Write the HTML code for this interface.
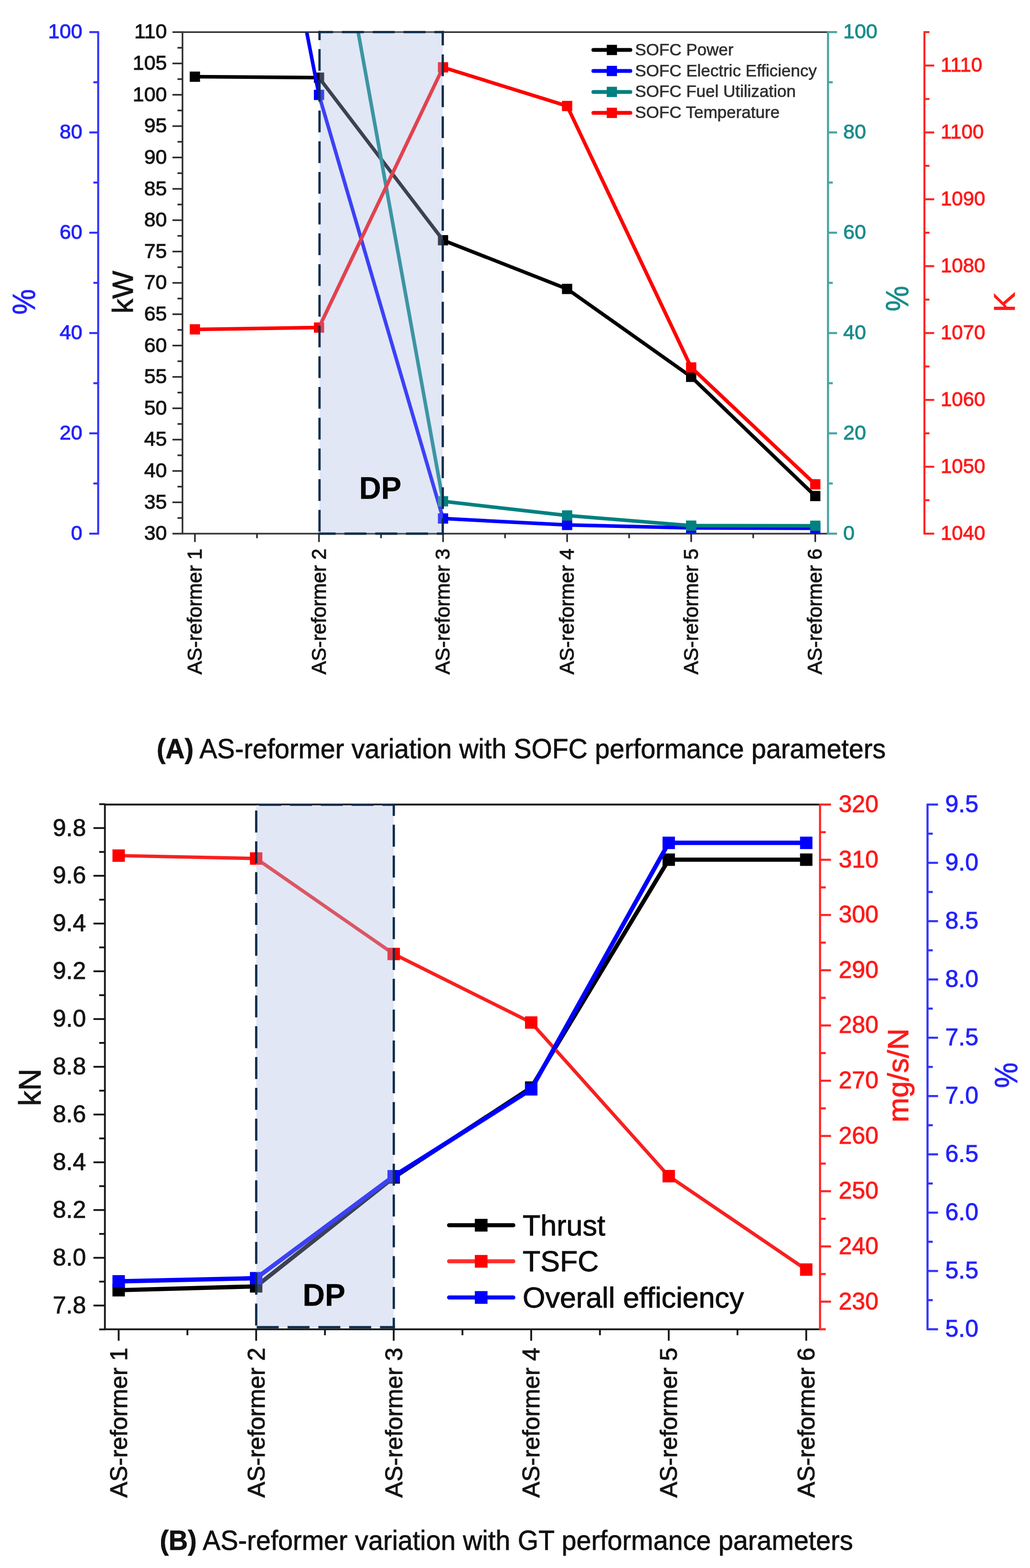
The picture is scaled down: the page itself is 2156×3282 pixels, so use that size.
<!DOCTYPE html>
<html><head><meta charset="utf-8"><title>AS-reformer variation</title>
<style>html,body{margin:0;padding:0;background:#fff;} svg{display:block;}</style></head>
<body><svg width="2156" height="3282" viewBox="0 0 2156 3282" font-family="Liberation Sans, Arial, sans-serif">
<rect width="2156" height="3282" fill="#ffffff"/>
<line x1="205.5" y1="65.4" x2="205.5" y2="1118.8" stroke="#3333ff" stroke-width="4.2" />
<line x1="206.5" y1="1117.0" x2="187.0" y2="1117.0" stroke="#3333ff" stroke-width="4.2" />
<text x="172.5" y="1130.2" font-size="43" fill="#2222ff" stroke="#2222ff" stroke-width="1.0" text-anchor="end" >0</text>
<line x1="206.5" y1="1012.0" x2="195.5" y2="1012.0" stroke="#3333ff" stroke-width="4.2" />
<line x1="206.5" y1="907.0" x2="187.0" y2="907.0" stroke="#3333ff" stroke-width="4.2" />
<text x="172.5" y="920.2" font-size="43" fill="#2222ff" stroke="#2222ff" stroke-width="1.0" text-anchor="end" >20</text>
<line x1="206.5" y1="802.1" x2="195.5" y2="802.1" stroke="#3333ff" stroke-width="4.2" />
<line x1="206.5" y1="697.1" x2="187.0" y2="697.1" stroke="#3333ff" stroke-width="4.2" />
<text x="172.5" y="710.3" font-size="43" fill="#2222ff" stroke="#2222ff" stroke-width="1.0" text-anchor="end" >40</text>
<line x1="206.5" y1="592.1" x2="195.5" y2="592.1" stroke="#3333ff" stroke-width="4.2" />
<line x1="206.5" y1="487.1" x2="187.0" y2="487.1" stroke="#3333ff" stroke-width="4.2" />
<text x="172.5" y="500.3" font-size="43" fill="#2222ff" stroke="#2222ff" stroke-width="1.0" text-anchor="end" >60</text>
<line x1="206.5" y1="382.1" x2="195.5" y2="382.1" stroke="#3333ff" stroke-width="4.2" />
<line x1="206.5" y1="277.2" x2="187.0" y2="277.2" stroke="#3333ff" stroke-width="4.2" />
<text x="172.5" y="290.4" font-size="43" fill="#2222ff" stroke="#2222ff" stroke-width="1.0" text-anchor="end" >80</text>
<line x1="206.5" y1="172.2" x2="195.5" y2="172.2" stroke="#3333ff" stroke-width="4.2" />
<line x1="206.5" y1="67.2" x2="187.0" y2="67.2" stroke="#3333ff" stroke-width="4.2" />
<text x="172.5" y="80.4" font-size="43" fill="#2222ff" stroke="#2222ff" stroke-width="1.0" text-anchor="end" >100</text>
<line x1="382.0" y1="65.7" x2="382.0" y2="1118.5" stroke="#2a2a2a" stroke-width="3.4" />
<line x1="382.0" y1="1117.0" x2="361.0" y2="1117.0" stroke="#2a2a2a" stroke-width="3.4" />
<text x="349.5" y="1130.2" font-size="43" fill="#141414" stroke="#141414" stroke-width="1.0" text-anchor="end" >30</text>
<line x1="382.0" y1="1084.2" x2="371.5" y2="1084.2" stroke="#2a2a2a" stroke-width="3.4" />
<line x1="382.0" y1="1051.4" x2="361.0" y2="1051.4" stroke="#2a2a2a" stroke-width="3.4" />
<text x="349.5" y="1064.6" font-size="43" fill="#141414" stroke="#141414" stroke-width="1.0" text-anchor="end" >35</text>
<line x1="382.0" y1="1018.6" x2="371.5" y2="1018.6" stroke="#2a2a2a" stroke-width="3.4" />
<line x1="382.0" y1="985.8" x2="361.0" y2="985.8" stroke="#2a2a2a" stroke-width="3.4" />
<text x="349.5" y="999.0" font-size="43" fill="#141414" stroke="#141414" stroke-width="1.0" text-anchor="end" >40</text>
<line x1="382.0" y1="953.0" x2="371.5" y2="953.0" stroke="#2a2a2a" stroke-width="3.4" />
<line x1="382.0" y1="920.2" x2="361.0" y2="920.2" stroke="#2a2a2a" stroke-width="3.4" />
<text x="349.5" y="933.4" font-size="43" fill="#141414" stroke="#141414" stroke-width="1.0" text-anchor="end" >45</text>
<line x1="382.0" y1="887.4" x2="371.5" y2="887.4" stroke="#2a2a2a" stroke-width="3.4" />
<line x1="382.0" y1="854.6" x2="361.0" y2="854.6" stroke="#2a2a2a" stroke-width="3.4" />
<text x="349.5" y="867.8" font-size="43" fill="#141414" stroke="#141414" stroke-width="1.0" text-anchor="end" >50</text>
<line x1="382.0" y1="821.7" x2="371.5" y2="821.7" stroke="#2a2a2a" stroke-width="3.4" />
<line x1="382.0" y1="788.9" x2="361.0" y2="788.9" stroke="#2a2a2a" stroke-width="3.4" />
<text x="349.5" y="802.1" font-size="43" fill="#141414" stroke="#141414" stroke-width="1.0" text-anchor="end" >55</text>
<line x1="382.0" y1="756.1" x2="371.5" y2="756.1" stroke="#2a2a2a" stroke-width="3.4" />
<line x1="382.0" y1="723.3" x2="361.0" y2="723.3" stroke="#2a2a2a" stroke-width="3.4" />
<text x="349.5" y="736.5" font-size="43" fill="#141414" stroke="#141414" stroke-width="1.0" text-anchor="end" >60</text>
<line x1="382.0" y1="690.5" x2="371.5" y2="690.5" stroke="#2a2a2a" stroke-width="3.4" />
<line x1="382.0" y1="657.7" x2="361.0" y2="657.7" stroke="#2a2a2a" stroke-width="3.4" />
<text x="349.5" y="670.9" font-size="43" fill="#141414" stroke="#141414" stroke-width="1.0" text-anchor="end" >65</text>
<line x1="382.0" y1="624.9" x2="371.5" y2="624.9" stroke="#2a2a2a" stroke-width="3.4" />
<line x1="382.0" y1="592.1" x2="361.0" y2="592.1" stroke="#2a2a2a" stroke-width="3.4" />
<text x="349.5" y="605.3" font-size="43" fill="#141414" stroke="#141414" stroke-width="1.0" text-anchor="end" >70</text>
<line x1="382.0" y1="559.3" x2="371.5" y2="559.3" stroke="#2a2a2a" stroke-width="3.4" />
<line x1="382.0" y1="526.5" x2="361.0" y2="526.5" stroke="#2a2a2a" stroke-width="3.4" />
<text x="349.5" y="539.7" font-size="43" fill="#141414" stroke="#141414" stroke-width="1.0" text-anchor="end" >75</text>
<line x1="382.0" y1="493.7" x2="371.5" y2="493.7" stroke="#2a2a2a" stroke-width="3.4" />
<line x1="382.0" y1="460.9" x2="361.0" y2="460.9" stroke="#2a2a2a" stroke-width="3.4" />
<text x="349.5" y="474.1" font-size="43" fill="#141414" stroke="#141414" stroke-width="1.0" text-anchor="end" >80</text>
<line x1="382.0" y1="428.1" x2="371.5" y2="428.1" stroke="#2a2a2a" stroke-width="3.4" />
<line x1="382.0" y1="395.3" x2="361.0" y2="395.3" stroke="#2a2a2a" stroke-width="3.4" />
<text x="349.5" y="408.5" font-size="43" fill="#141414" stroke="#141414" stroke-width="1.0" text-anchor="end" >85</text>
<line x1="382.0" y1="362.5" x2="371.5" y2="362.5" stroke="#2a2a2a" stroke-width="3.4" />
<line x1="382.0" y1="329.6" x2="361.0" y2="329.6" stroke="#2a2a2a" stroke-width="3.4" />
<text x="349.5" y="342.8" font-size="43" fill="#141414" stroke="#141414" stroke-width="1.0" text-anchor="end" >90</text>
<line x1="382.0" y1="296.8" x2="371.5" y2="296.8" stroke="#2a2a2a" stroke-width="3.4" />
<line x1="382.0" y1="264.0" x2="361.0" y2="264.0" stroke="#2a2a2a" stroke-width="3.4" />
<text x="349.5" y="277.2" font-size="43" fill="#141414" stroke="#141414" stroke-width="1.0" text-anchor="end" >95</text>
<line x1="382.0" y1="231.2" x2="371.5" y2="231.2" stroke="#2a2a2a" stroke-width="3.4" />
<line x1="382.0" y1="198.4" x2="361.0" y2="198.4" stroke="#2a2a2a" stroke-width="3.4" />
<text x="349.5" y="211.6" font-size="43" fill="#141414" stroke="#141414" stroke-width="1.0" text-anchor="end" >100</text>
<line x1="382.0" y1="165.6" x2="371.5" y2="165.6" stroke="#2a2a2a" stroke-width="3.4" />
<line x1="382.0" y1="132.8" x2="361.0" y2="132.8" stroke="#2a2a2a" stroke-width="3.4" />
<text x="349.5" y="146.0" font-size="43" fill="#141414" stroke="#141414" stroke-width="1.0" text-anchor="end" >105</text>
<line x1="382.0" y1="100.0" x2="371.5" y2="100.0" stroke="#2a2a2a" stroke-width="3.4" />
<line x1="382.0" y1="67.2" x2="361.0" y2="67.2" stroke="#2a2a2a" stroke-width="3.4" />
<text x="349.5" y="80.4" font-size="43" fill="#141414" stroke="#141414" stroke-width="1.0" text-anchor="end" >110</text>
<line x1="380.5" y1="67.2" x2="1733.0" y2="67.2" stroke="#383838" stroke-width="3.4" />
<line x1="380.5" y1="1117.0" x2="1733.0" y2="1117.0" stroke="#383838" stroke-width="3.4" />
<line x1="408.0" y1="1117.0" x2="408.0" y2="1134.5" stroke="#2a2a2a" stroke-width="3.4" />
<line x1="537.9" y1="1117.0" x2="537.9" y2="1126.5" stroke="#2a2a2a" stroke-width="3.4" />
<line x1="667.7" y1="1117.0" x2="667.7" y2="1134.5" stroke="#2a2a2a" stroke-width="3.4" />
<line x1="797.6" y1="1117.0" x2="797.6" y2="1126.5" stroke="#2a2a2a" stroke-width="3.4" />
<line x1="927.4" y1="1117.0" x2="927.4" y2="1134.5" stroke="#2a2a2a" stroke-width="3.4" />
<line x1="1057.2" y1="1117.0" x2="1057.2" y2="1126.5" stroke="#2a2a2a" stroke-width="3.4" />
<line x1="1187.1" y1="1117.0" x2="1187.1" y2="1134.5" stroke="#2a2a2a" stroke-width="3.4" />
<line x1="1316.9" y1="1117.0" x2="1316.9" y2="1126.5" stroke="#2a2a2a" stroke-width="3.4" />
<line x1="1446.8" y1="1117.0" x2="1446.8" y2="1134.5" stroke="#2a2a2a" stroke-width="3.4" />
<line x1="1576.6" y1="1117.0" x2="1576.6" y2="1126.5" stroke="#2a2a2a" stroke-width="3.4" />
<line x1="1706.5" y1="1117.0" x2="1706.5" y2="1134.5" stroke="#2a2a2a" stroke-width="3.4" />
<line x1="1733.2" y1="65.4" x2="1733.2" y2="1118.8" stroke="#48a6a6" stroke-width="4.4" />
<line x1="1732.2" y1="1117.0" x2="1752.2" y2="1117.0" stroke="#48a6a6" stroke-width="4.4" />
<text x="1765.0" y="1130.2" font-size="43" fill="#1a8c8c" stroke="#1a8c8c" stroke-width="1.0" text-anchor="start" >0</text>
<line x1="1732.2" y1="1012.0" x2="1743.2" y2="1012.0" stroke="#48a6a6" stroke-width="4.4" />
<line x1="1732.2" y1="907.0" x2="1752.2" y2="907.0" stroke="#48a6a6" stroke-width="4.4" />
<text x="1765.0" y="920.2" font-size="43" fill="#1a8c8c" stroke="#1a8c8c" stroke-width="1.0" text-anchor="start" >20</text>
<line x1="1732.2" y1="802.1" x2="1743.2" y2="802.1" stroke="#48a6a6" stroke-width="4.4" />
<line x1="1732.2" y1="697.1" x2="1752.2" y2="697.1" stroke="#48a6a6" stroke-width="4.4" />
<text x="1765.0" y="710.3" font-size="43" fill="#1a8c8c" stroke="#1a8c8c" stroke-width="1.0" text-anchor="start" >40</text>
<line x1="1732.2" y1="592.1" x2="1743.2" y2="592.1" stroke="#48a6a6" stroke-width="4.4" />
<line x1="1732.2" y1="487.1" x2="1752.2" y2="487.1" stroke="#48a6a6" stroke-width="4.4" />
<text x="1765.0" y="500.3" font-size="43" fill="#1a8c8c" stroke="#1a8c8c" stroke-width="1.0" text-anchor="start" >60</text>
<line x1="1732.2" y1="382.1" x2="1743.2" y2="382.1" stroke="#48a6a6" stroke-width="4.4" />
<line x1="1732.2" y1="277.2" x2="1752.2" y2="277.2" stroke="#48a6a6" stroke-width="4.4" />
<text x="1765.0" y="290.4" font-size="43" fill="#1a8c8c" stroke="#1a8c8c" stroke-width="1.0" text-anchor="start" >80</text>
<line x1="1732.2" y1="172.2" x2="1743.2" y2="172.2" stroke="#48a6a6" stroke-width="4.4" />
<line x1="1732.2" y1="67.2" x2="1752.2" y2="67.2" stroke="#48a6a6" stroke-width="4.4" />
<text x="1765.0" y="80.4" font-size="43" fill="#1a8c8c" stroke="#1a8c8c" stroke-width="1.0" text-anchor="start" >100</text>
<line x1="1935.0" y1="65.4" x2="1935.0" y2="1118.8" stroke="#ff2626" stroke-width="4.2" />
<line x1="1934.0" y1="1117.0" x2="1955.5" y2="1117.0" stroke="#ff2626" stroke-width="4.2" />
<text x="1969.0" y="1130.2" font-size="42" fill="#ff1a1a" stroke="#ff1a1a" stroke-width="1.0" text-anchor="start" >1040</text>
<line x1="1934.0" y1="1047.0" x2="1945.5" y2="1047.0" stroke="#ff2626" stroke-width="4.2" />
<line x1="1934.0" y1="977.0" x2="1955.5" y2="977.0" stroke="#ff2626" stroke-width="4.2" />
<text x="1969.0" y="990.2" font-size="42" fill="#ff1a1a" stroke="#ff1a1a" stroke-width="1.0" text-anchor="start" >1050</text>
<line x1="1934.0" y1="907.0" x2="1945.5" y2="907.0" stroke="#ff2626" stroke-width="4.2" />
<line x1="1934.0" y1="837.1" x2="1955.5" y2="837.1" stroke="#ff2626" stroke-width="4.2" />
<text x="1969.0" y="850.3" font-size="42" fill="#ff1a1a" stroke="#ff1a1a" stroke-width="1.0" text-anchor="start" >1060</text>
<line x1="1934.0" y1="767.1" x2="1945.5" y2="767.1" stroke="#ff2626" stroke-width="4.2" />
<line x1="1934.0" y1="697.1" x2="1955.5" y2="697.1" stroke="#ff2626" stroke-width="4.2" />
<text x="1969.0" y="710.3" font-size="42" fill="#ff1a1a" stroke="#ff1a1a" stroke-width="1.0" text-anchor="start" >1070</text>
<line x1="1934.0" y1="627.1" x2="1945.5" y2="627.1" stroke="#ff2626" stroke-width="4.2" />
<line x1="1934.0" y1="557.1" x2="1955.5" y2="557.1" stroke="#ff2626" stroke-width="4.2" />
<text x="1969.0" y="570.3" font-size="42" fill="#ff1a1a" stroke="#ff1a1a" stroke-width="1.0" text-anchor="start" >1080</text>
<line x1="1934.0" y1="487.1" x2="1945.5" y2="487.1" stroke="#ff2626" stroke-width="4.2" />
<line x1="1934.0" y1="417.1" x2="1955.5" y2="417.1" stroke="#ff2626" stroke-width="4.2" />
<text x="1969.0" y="430.3" font-size="42" fill="#ff1a1a" stroke="#ff1a1a" stroke-width="1.0" text-anchor="start" >1090</text>
<line x1="1934.0" y1="347.1" x2="1945.5" y2="347.1" stroke="#ff2626" stroke-width="4.2" />
<line x1="1934.0" y1="277.2" x2="1955.5" y2="277.2" stroke="#ff2626" stroke-width="4.2" />
<text x="1969.0" y="290.4" font-size="42" fill="#ff1a1a" stroke="#ff1a1a" stroke-width="1.0" text-anchor="start" >1100</text>
<line x1="1934.0" y1="207.2" x2="1945.5" y2="207.2" stroke="#ff2626" stroke-width="4.2" />
<line x1="1934.0" y1="137.2" x2="1955.5" y2="137.2" stroke="#ff2626" stroke-width="4.2" />
<text x="1969.0" y="150.4" font-size="42" fill="#ff1a1a" stroke="#ff1a1a" stroke-width="1.0" text-anchor="start" >1110</text>
<line x1="1934.0" y1="67.2" x2="1945.5" y2="67.2" stroke="#ff2626" stroke-width="4.2" />
<text transform="translate(73.2,631.8) rotate(-90)" font-size="66" fill="#2222ff" stroke="#2222ff" stroke-width="1.0" text-anchor="middle" textLength="53.3" lengthAdjust="spacingAndGlyphs">%</text>
<text transform="translate(277.5,611.5) rotate(-90)" font-size="62" fill="#141414" stroke="#141414" stroke-width="1.0" text-anchor="middle" >kW</text>
<text transform="translate(1900.9,625.1) rotate(-90)" font-size="66" fill="#1a8c8c" stroke="#1a8c8c" stroke-width="1.0" text-anchor="middle" textLength="53.3" lengthAdjust="spacingAndGlyphs">%</text>
<text transform="translate(2124.0,632.5) rotate(-90)" font-size="63" fill="#ff1a1a" stroke="#ff1a1a" stroke-width="1.0" text-anchor="middle" >K</text>
<text transform="translate(421.8,1411.8) rotate(-90)" font-size="42" fill="#141414" stroke="#141414" stroke-width="1.0" text-anchor="start" >AS-reformer 1</text>
<text transform="translate(681.5,1411.8) rotate(-90)" font-size="42" fill="#141414" stroke="#141414" stroke-width="1.0" text-anchor="start" >AS-reformer 2</text>
<text transform="translate(941.2,1411.8) rotate(-90)" font-size="42" fill="#141414" stroke="#141414" stroke-width="1.0" text-anchor="start" >AS-reformer 3</text>
<text transform="translate(1200.9,1411.8) rotate(-90)" font-size="42" fill="#141414" stroke="#141414" stroke-width="1.0" text-anchor="start" >AS-reformer 4</text>
<text transform="translate(1460.6,1411.8) rotate(-90)" font-size="42" fill="#141414" stroke="#141414" stroke-width="1.0" text-anchor="start" >AS-reformer 5</text>
<text transform="translate(1720.3,1411.8) rotate(-90)" font-size="42" fill="#141414" stroke="#141414" stroke-width="1.0" text-anchor="start" >AS-reformer 6</text>
<clipPath id="clipA"><rect x="382.0" y="68.2" width="1351.0" height="1061.8"/></clipPath>
<g clip-path="url(#clipA)">
<polyline points="408.0,160.5 667.7,162.5 927.4,502.8 1187.1,604.7 1446.8,788.7 1706.5,1038.3" fill="none" stroke="#000000" stroke-width="7.5" stroke-linejoin="round" />
<rect x="397.2" y="149.8" width="21.5" height="21.5" fill="#000000" />
<rect x="657.0" y="151.8" width="21.5" height="21.5" fill="#000000" />
<rect x="916.6" y="492.1" width="21.5" height="21.5" fill="#000000" />
<rect x="1176.3" y="594.0" width="21.5" height="21.5" fill="#000000" />
<rect x="1436.0" y="778.0" width="21.5" height="21.5" fill="#000000" />
<rect x="1695.8" y="1027.5" width="21.5" height="21.5" fill="#000000" />
<polyline points="408.0,-1130.4 667.7,198.7 927.4,1085.3 1187.1,1098.8 1446.8,1105.0 1706.5,1105.8" fill="none" stroke="#0000ff" stroke-width="7.5" stroke-linejoin="round" />
<rect x="397.2" y="-1141.2" width="21.5" height="21.5" fill="#0000ff" />
<rect x="657.0" y="187.9" width="21.5" height="21.5" fill="#0000ff" />
<rect x="916.6" y="1074.5" width="21.5" height="21.5" fill="#0000ff" />
<rect x="1176.3" y="1088.0" width="21.5" height="21.5" fill="#0000ff" />
<rect x="1436.0" y="1094.2" width="21.5" height="21.5" fill="#0000ff" />
<rect x="1695.8" y="1095.0" width="21.5" height="21.5" fill="#0000ff" />
<polyline points="408.0,-2000.0 667.7,-386.3 927.4,1049.3 1187.1,1079.0 1446.8,1100.2 1706.5,1100.4" fill="none" stroke="#008080" stroke-width="7.5" stroke-linejoin="round" />
<rect x="397.2" y="-2010.8" width="21.5" height="21.5" fill="#008080" />
<rect x="657.0" y="-397.1" width="21.5" height="21.5" fill="#008080" />
<rect x="916.6" y="1038.5" width="21.5" height="21.5" fill="#008080" />
<rect x="1176.3" y="1068.2" width="21.5" height="21.5" fill="#008080" />
<rect x="1436.0" y="1089.5" width="21.5" height="21.5" fill="#008080" />
<rect x="1695.8" y="1089.7" width="21.5" height="21.5" fill="#008080" />
<polyline points="408.0,689.4 667.7,685.6 927.4,141.0 1187.1,221.8 1446.8,769.1 1706.5,1013.8" fill="none" stroke="#ff0000" stroke-width="7.5" stroke-linejoin="round" />
<rect x="397.2" y="678.6" width="21.5" height="21.5" fill="#ff0000" />
<rect x="657.0" y="674.9" width="21.5" height="21.5" fill="#ff0000" />
<rect x="916.6" y="130.2" width="21.5" height="21.5" fill="#ff0000" />
<rect x="1176.3" y="211.1" width="21.5" height="21.5" fill="#ff0000" />
<rect x="1436.0" y="758.4" width="21.5" height="21.5" fill="#ff0000" />
<rect x="1695.8" y="1003.0" width="21.5" height="21.5" fill="#ff0000" />
</g>
<rect x="668.8" y="67.2" width="258.0" height="1049.8" fill="rgb(170,187,227)" fill-opacity="0.353"/>
<line x1="668.8" y1="64.8" x2="668.8" y2="1119.4" stroke="#0f2c4a" stroke-width="4.8" stroke-dasharray="45.5 18.8" stroke-dashoffset="26.30"/>
<line x1="926.8" y1="64.8" x2="926.8" y2="1119.4" stroke="#0f2c4a" stroke-width="4.8" stroke-dasharray="45.5 19.2" stroke-dashoffset="15.40"/>
<line x1="666.4" y1="67.2" x2="929.2" y2="67.2" stroke="#0f2c4a" stroke-width="4.8" stroke-dasharray="46 18.5" stroke-dashoffset="15.20"/>
<line x1="666.4" y1="1117.0" x2="929.2" y2="1117.0" stroke="#0f2c4a" stroke-width="4.8" stroke-dasharray="46 18.5" stroke-dashoffset="9.90"/>
<text x="751.8" y="1044.0" font-size="65" fill="#000" stroke="#000" stroke-width="0.3" text-anchor="start" font-weight="bold" textLength="88.5" lengthAdjust="spacingAndGlyphs">DP</text>
<line x1="1242.0" y1="104.6" x2="1319.5" y2="104.6" stroke="#000000" stroke-width="8" stroke-linecap="round"/>
<rect x="1270.0" y="93.8" width="21.5" height="21.5" fill="#000000" />
<text x="1329.2" y="115.6" font-size="35" fill="#2e2e2e" stroke="#2e2e2e" stroke-width="0.7" text-anchor="start" >SOFC Power</text>
<line x1="1242.0" y1="148.5" x2="1319.5" y2="148.5" stroke="#0000ff" stroke-width="8" stroke-linecap="round"/>
<rect x="1270.0" y="137.8" width="21.5" height="21.5" fill="#0000ff" />
<text x="1329.2" y="159.5" font-size="35" fill="#2e2e2e" stroke="#2e2e2e" stroke-width="0.7" text-anchor="start" >SOFC Electric Efficiency</text>
<line x1="1242.0" y1="192.4" x2="1319.5" y2="192.4" stroke="#008080" stroke-width="8" stroke-linecap="round"/>
<rect x="1270.0" y="181.6" width="21.5" height="21.5" fill="#008080" />
<text x="1329.2" y="203.4" font-size="35" fill="#2e2e2e" stroke="#2e2e2e" stroke-width="0.7" text-anchor="start" >SOFC Fuel Utilization</text>
<line x1="1242.0" y1="236.3" x2="1319.5" y2="236.3" stroke="#ff0000" stroke-width="8" stroke-linecap="round"/>
<rect x="1270.0" y="225.5" width="21.5" height="21.5" fill="#ff0000" />
<text x="1329.2" y="247.3" font-size="35" fill="#2e2e2e" stroke="#2e2e2e" stroke-width="0.7" text-anchor="start" >SOFC Temperature</text>
<text x="328" y="1587" font-size="57" fill="#111" stroke="#111" stroke-width="0.8" textLength="1526" lengthAdjust="spacingAndGlyphs"><tspan font-weight="bold">(A)</tspan> AS-reformer variation with SOFC performance parameters</text>
<line x1="219.6" y1="1682.5" x2="219.6" y2="2783.8" stroke="#161616" stroke-width="3.8" />
<line x1="219.6" y1="2782.6" x2="207.6" y2="2782.6" stroke="#161616" stroke-width="3.8" />
<line x1="219.6" y1="2732.6" x2="195.6" y2="2732.6" stroke="#161616" stroke-width="3.8" />
<text x="180.0" y="2748.9" font-size="50" fill="#141414" stroke="#141414" stroke-width="1.0" text-anchor="end" >7.8</text>
<line x1="219.6" y1="2682.6" x2="207.6" y2="2682.6" stroke="#161616" stroke-width="3.8" />
<line x1="219.6" y1="2632.7" x2="195.6" y2="2632.7" stroke="#161616" stroke-width="3.8" />
<text x="180.0" y="2649.0" font-size="50" fill="#141414" stroke="#141414" stroke-width="1.0" text-anchor="end" >8.0</text>
<line x1="219.6" y1="2582.7" x2="207.6" y2="2582.7" stroke="#161616" stroke-width="3.8" />
<line x1="219.6" y1="2532.7" x2="195.6" y2="2532.7" stroke="#161616" stroke-width="3.8" />
<text x="180.0" y="2549.0" font-size="50" fill="#141414" stroke="#141414" stroke-width="1.0" text-anchor="end" >8.2</text>
<line x1="219.6" y1="2482.7" x2="207.6" y2="2482.7" stroke="#161616" stroke-width="3.8" />
<line x1="219.6" y1="2432.8" x2="195.6" y2="2432.8" stroke="#161616" stroke-width="3.8" />
<text x="180.0" y="2449.1" font-size="50" fill="#141414" stroke="#141414" stroke-width="1.0" text-anchor="end" >8.4</text>
<line x1="219.6" y1="2382.8" x2="207.6" y2="2382.8" stroke="#161616" stroke-width="3.8" />
<line x1="219.6" y1="2332.8" x2="195.6" y2="2332.8" stroke="#161616" stroke-width="3.8" />
<text x="180.0" y="2349.1" font-size="50" fill="#141414" stroke="#141414" stroke-width="1.0" text-anchor="end" >8.6</text>
<line x1="219.6" y1="2282.9" x2="207.6" y2="2282.9" stroke="#161616" stroke-width="3.8" />
<line x1="219.6" y1="2232.9" x2="195.6" y2="2232.9" stroke="#161616" stroke-width="3.8" />
<text x="180.0" y="2249.2" font-size="50" fill="#141414" stroke="#141414" stroke-width="1.0" text-anchor="end" >8.8</text>
<line x1="219.6" y1="2182.9" x2="207.6" y2="2182.9" stroke="#161616" stroke-width="3.8" />
<line x1="219.6" y1="2133.0" x2="195.6" y2="2133.0" stroke="#161616" stroke-width="3.8" />
<text x="180.0" y="2149.3" font-size="50" fill="#141414" stroke="#141414" stroke-width="1.0" text-anchor="end" >9.0</text>
<line x1="219.6" y1="2083.0" x2="207.6" y2="2083.0" stroke="#161616" stroke-width="3.8" />
<line x1="219.6" y1="2033.0" x2="195.6" y2="2033.0" stroke="#161616" stroke-width="3.8" />
<text x="180.0" y="2049.3" font-size="50" fill="#141414" stroke="#141414" stroke-width="1.0" text-anchor="end" >9.2</text>
<line x1="219.6" y1="1983.0" x2="207.6" y2="1983.0" stroke="#161616" stroke-width="3.8" />
<line x1="219.6" y1="1933.1" x2="195.6" y2="1933.1" stroke="#161616" stroke-width="3.8" />
<text x="180.0" y="1949.4" font-size="50" fill="#141414" stroke="#141414" stroke-width="1.0" text-anchor="end" >9.4</text>
<line x1="219.6" y1="1883.1" x2="207.6" y2="1883.1" stroke="#161616" stroke-width="3.8" />
<line x1="219.6" y1="1833.1" x2="195.6" y2="1833.1" stroke="#161616" stroke-width="3.8" />
<text x="180.0" y="1849.4" font-size="50" fill="#141414" stroke="#141414" stroke-width="1.0" text-anchor="end" >9.6</text>
<line x1="219.6" y1="1783.2" x2="207.6" y2="1783.2" stroke="#161616" stroke-width="3.8" />
<line x1="219.6" y1="1733.2" x2="195.6" y2="1733.2" stroke="#161616" stroke-width="3.8" />
<text x="180.0" y="1749.5" font-size="50" fill="#141414" stroke="#141414" stroke-width="1.0" text-anchor="end" >9.8</text>
<line x1="219.6" y1="1683.2" x2="207.6" y2="1683.2" stroke="#161616" stroke-width="3.8" />
<line x1="218.1" y1="1684.0" x2="1716.5" y2="1684.0" stroke="#161616" stroke-width="3.8" />
<line x1="218.1" y1="2782.3" x2="1716.5" y2="2782.3" stroke="#161616" stroke-width="3.8" />
<line x1="248.4" y1="2782.3" x2="248.4" y2="2806.3" stroke="#161616" stroke-width="3.8" />
<line x1="392.3" y1="2782.3" x2="392.3" y2="2794.8" stroke="#161616" stroke-width="3.8" />
<line x1="536.2" y1="2782.3" x2="536.2" y2="2806.3" stroke="#161616" stroke-width="3.8" />
<line x1="680.2" y1="2782.3" x2="680.2" y2="2794.8" stroke="#161616" stroke-width="3.8" />
<line x1="824.1" y1="2782.3" x2="824.1" y2="2806.3" stroke="#161616" stroke-width="3.8" />
<line x1="968.0" y1="2782.3" x2="968.0" y2="2794.8" stroke="#161616" stroke-width="3.8" />
<line x1="1111.9" y1="2782.3" x2="1111.9" y2="2806.3" stroke="#161616" stroke-width="3.8" />
<line x1="1255.8" y1="2782.3" x2="1255.8" y2="2794.8" stroke="#161616" stroke-width="3.8" />
<line x1="1399.8" y1="2782.3" x2="1399.8" y2="2806.3" stroke="#161616" stroke-width="3.8" />
<line x1="1543.7" y1="2782.3" x2="1543.7" y2="2794.8" stroke="#161616" stroke-width="3.8" />
<line x1="1687.6" y1="2782.3" x2="1687.6" y2="2806.3" stroke="#161616" stroke-width="3.8" />
<line x1="1716.5" y1="1682.2" x2="1716.5" y2="2784.1" stroke="#ff2626" stroke-width="4.4" />
<line x1="1715.5" y1="2782.3" x2="1728.5" y2="2782.3" stroke="#ff2626" stroke-width="4.4" />
<line x1="1715.5" y1="2724.5" x2="1739.5" y2="2724.5" stroke="#ff2626" stroke-width="4.4" />
<text x="1755.5" y="2740.5" font-size="50" fill="#ff1a1a" stroke="#ff1a1a" stroke-width="1.0" text-anchor="start" >230</text>
<line x1="1715.5" y1="2666.7" x2="1728.5" y2="2666.7" stroke="#ff2626" stroke-width="4.4" />
<line x1="1715.5" y1="2608.9" x2="1739.5" y2="2608.9" stroke="#ff2626" stroke-width="4.4" />
<text x="1755.5" y="2624.9" font-size="50" fill="#ff1a1a" stroke="#ff1a1a" stroke-width="1.0" text-anchor="start" >240</text>
<line x1="1715.5" y1="2551.1" x2="1728.5" y2="2551.1" stroke="#ff2626" stroke-width="4.4" />
<line x1="1715.5" y1="2493.3" x2="1739.5" y2="2493.3" stroke="#ff2626" stroke-width="4.4" />
<text x="1755.5" y="2509.3" font-size="50" fill="#ff1a1a" stroke="#ff1a1a" stroke-width="1.0" text-anchor="start" >250</text>
<line x1="1715.5" y1="2435.5" x2="1728.5" y2="2435.5" stroke="#ff2626" stroke-width="4.4" />
<line x1="1715.5" y1="2377.7" x2="1739.5" y2="2377.7" stroke="#ff2626" stroke-width="4.4" />
<text x="1755.5" y="2393.7" font-size="50" fill="#ff1a1a" stroke="#ff1a1a" stroke-width="1.0" text-anchor="start" >260</text>
<line x1="1715.5" y1="2319.9" x2="1728.5" y2="2319.9" stroke="#ff2626" stroke-width="4.4" />
<line x1="1715.5" y1="2262.1" x2="1739.5" y2="2262.1" stroke="#ff2626" stroke-width="4.4" />
<text x="1755.5" y="2278.1" font-size="50" fill="#ff1a1a" stroke="#ff1a1a" stroke-width="1.0" text-anchor="start" >270</text>
<line x1="1715.5" y1="2204.2" x2="1728.5" y2="2204.2" stroke="#ff2626" stroke-width="4.4" />
<line x1="1715.5" y1="2146.4" x2="1739.5" y2="2146.4" stroke="#ff2626" stroke-width="4.4" />
<text x="1755.5" y="2162.4" font-size="50" fill="#ff1a1a" stroke="#ff1a1a" stroke-width="1.0" text-anchor="start" >280</text>
<line x1="1715.5" y1="2088.6" x2="1728.5" y2="2088.6" stroke="#ff2626" stroke-width="4.4" />
<line x1="1715.5" y1="2030.8" x2="1739.5" y2="2030.8" stroke="#ff2626" stroke-width="4.4" />
<text x="1755.5" y="2046.8" font-size="50" fill="#ff1a1a" stroke="#ff1a1a" stroke-width="1.0" text-anchor="start" >290</text>
<line x1="1715.5" y1="1973.0" x2="1728.5" y2="1973.0" stroke="#ff2626" stroke-width="4.4" />
<line x1="1715.5" y1="1915.2" x2="1739.5" y2="1915.2" stroke="#ff2626" stroke-width="4.4" />
<text x="1755.5" y="1931.2" font-size="50" fill="#ff1a1a" stroke="#ff1a1a" stroke-width="1.0" text-anchor="start" >300</text>
<line x1="1715.5" y1="1857.4" x2="1728.5" y2="1857.4" stroke="#ff2626" stroke-width="4.4" />
<line x1="1715.5" y1="1799.6" x2="1739.5" y2="1799.6" stroke="#ff2626" stroke-width="4.4" />
<text x="1755.5" y="1815.6" font-size="50" fill="#ff1a1a" stroke="#ff1a1a" stroke-width="1.0" text-anchor="start" >310</text>
<line x1="1715.5" y1="1741.8" x2="1728.5" y2="1741.8" stroke="#ff2626" stroke-width="4.4" />
<line x1="1715.5" y1="1684.0" x2="1739.5" y2="1684.0" stroke="#ff2626" stroke-width="4.4" />
<text x="1755.5" y="1700.0" font-size="50" fill="#ff1a1a" stroke="#ff1a1a" stroke-width="1.0" text-anchor="start" >320</text>
<line x1="1941.5" y1="1682.2" x2="1941.5" y2="2784.1" stroke="#3333ff" stroke-width="4.4" />
<line x1="1940.5" y1="2782.3" x2="1963.5" y2="2782.3" stroke="#3333ff" stroke-width="4.4" />
<text x="1978.5" y="2798.3" font-size="50" fill="#2222ff" stroke="#2222ff" stroke-width="1.0" text-anchor="start" >5.0</text>
<line x1="1940.5" y1="2721.3" x2="1952.5" y2="2721.3" stroke="#3333ff" stroke-width="4.4" />
<line x1="1940.5" y1="2660.3" x2="1963.5" y2="2660.3" stroke="#3333ff" stroke-width="4.4" />
<text x="1978.5" y="2676.3" font-size="50" fill="#2222ff" stroke="#2222ff" stroke-width="1.0" text-anchor="start" >5.5</text>
<line x1="1940.5" y1="2599.2" x2="1952.5" y2="2599.2" stroke="#3333ff" stroke-width="4.4" />
<line x1="1940.5" y1="2538.2" x2="1963.5" y2="2538.2" stroke="#3333ff" stroke-width="4.4" />
<text x="1978.5" y="2554.2" font-size="50" fill="#2222ff" stroke="#2222ff" stroke-width="1.0" text-anchor="start" >6.0</text>
<line x1="1940.5" y1="2477.2" x2="1952.5" y2="2477.2" stroke="#3333ff" stroke-width="4.4" />
<line x1="1940.5" y1="2416.2" x2="1963.5" y2="2416.2" stroke="#3333ff" stroke-width="4.4" />
<text x="1978.5" y="2432.2" font-size="50" fill="#2222ff" stroke="#2222ff" stroke-width="1.0" text-anchor="start" >6.5</text>
<line x1="1940.5" y1="2355.2" x2="1952.5" y2="2355.2" stroke="#3333ff" stroke-width="4.4" />
<line x1="1940.5" y1="2294.2" x2="1963.5" y2="2294.2" stroke="#3333ff" stroke-width="4.4" />
<text x="1978.5" y="2310.2" font-size="50" fill="#2222ff" stroke="#2222ff" stroke-width="1.0" text-anchor="start" >7.0</text>
<line x1="1940.5" y1="2233.2" x2="1952.5" y2="2233.2" stroke="#3333ff" stroke-width="4.4" />
<line x1="1940.5" y1="2172.1" x2="1963.5" y2="2172.1" stroke="#3333ff" stroke-width="4.4" />
<text x="1978.5" y="2188.1" font-size="50" fill="#2222ff" stroke="#2222ff" stroke-width="1.0" text-anchor="start" >7.5</text>
<line x1="1940.5" y1="2111.1" x2="1952.5" y2="2111.1" stroke="#3333ff" stroke-width="4.4" />
<line x1="1940.5" y1="2050.1" x2="1963.5" y2="2050.1" stroke="#3333ff" stroke-width="4.4" />
<text x="1978.5" y="2066.1" font-size="50" fill="#2222ff" stroke="#2222ff" stroke-width="1.0" text-anchor="start" >8.0</text>
<line x1="1940.5" y1="1989.1" x2="1952.5" y2="1989.1" stroke="#3333ff" stroke-width="4.4" />
<line x1="1940.5" y1="1928.1" x2="1963.5" y2="1928.1" stroke="#3333ff" stroke-width="4.4" />
<text x="1978.5" y="1944.1" font-size="50" fill="#2222ff" stroke="#2222ff" stroke-width="1.0" text-anchor="start" >8.5</text>
<line x1="1940.5" y1="1867.0" x2="1952.5" y2="1867.0" stroke="#3333ff" stroke-width="4.4" />
<line x1="1940.5" y1="1806.0" x2="1963.5" y2="1806.0" stroke="#3333ff" stroke-width="4.4" />
<text x="1978.5" y="1822.0" font-size="50" fill="#2222ff" stroke="#2222ff" stroke-width="1.0" text-anchor="start" >9.0</text>
<line x1="1940.5" y1="1745.0" x2="1952.5" y2="1745.0" stroke="#3333ff" stroke-width="4.4" />
<line x1="1940.5" y1="1684.0" x2="1963.5" y2="1684.0" stroke="#3333ff" stroke-width="4.4" />
<text x="1978.5" y="1700.0" font-size="50" fill="#2222ff" stroke="#2222ff" stroke-width="1.0" text-anchor="start" >9.5</text>
<text transform="translate(84.5,2276.0) rotate(-90)" font-size="64" fill="#141414" stroke="#141414" stroke-width="1.0" text-anchor="middle" >kN</text>
<text transform="translate(1900.6,2251.0) rotate(-90)" font-size="62" fill="#ff1a1a" stroke="#ff1a1a" stroke-width="1.0" text-anchor="middle" >mg/s/N</text>
<text transform="translate(2128.6,2250.5) rotate(-90)" font-size="66" fill="#2222ff" stroke="#2222ff" stroke-width="1.0" text-anchor="middle" textLength="53.3" lengthAdjust="spacingAndGlyphs">%</text>
<text transform="translate(265.9,3134.7) rotate(-90)" font-size="50" fill="#141414" stroke="#141414" stroke-width="1.0" text-anchor="start" >AS-reformer 1</text>
<text transform="translate(553.7,3134.7) rotate(-90)" font-size="50" fill="#141414" stroke="#141414" stroke-width="1.0" text-anchor="start" >AS-reformer 2</text>
<text transform="translate(841.6,3134.7) rotate(-90)" font-size="50" fill="#141414" stroke="#141414" stroke-width="1.0" text-anchor="start" >AS-reformer 3</text>
<text transform="translate(1129.4,3134.7) rotate(-90)" font-size="50" fill="#141414" stroke="#141414" stroke-width="1.0" text-anchor="start" >AS-reformer 4</text>
<text transform="translate(1417.3,3134.7) rotate(-90)" font-size="50" fill="#141414" stroke="#141414" stroke-width="1.0" text-anchor="start" >AS-reformer 5</text>
<text transform="translate(1705.1,3134.7) rotate(-90)" font-size="50" fill="#141414" stroke="#141414" stroke-width="1.0" text-anchor="start" >AS-reformer 6</text>
<polyline points="248.4,2700.6 536.2,2692.5 824.1,2464.5 1111.9,2276.5 1399.8,1799.4 1687.6,1799.4" fill="none" stroke="#000000" stroke-width="8.8" stroke-linejoin="round" />
<rect x="235.4" y="2687.6" width="26" height="26" fill="#000000" />
<rect x="523.2" y="2679.5" width="26" height="26" fill="#000000" />
<rect x="811.1" y="2451.5" width="26" height="26" fill="#000000" />
<rect x="1098.9" y="2263.5" width="26" height="26" fill="#000000" />
<rect x="1386.8" y="1786.4" width="26" height="26" fill="#000000" />
<rect x="1674.6" y="1786.4" width="26" height="26" fill="#000000" />
<polyline points="248.4,1790.9 536.2,1797.0 824.1,1996.8 1111.9,2140.3 1399.8,2461.8 1687.6,2657.4" fill="none" stroke="#f82020" stroke-width="7.2" stroke-linejoin="round" />
<rect x="235.4" y="1777.9" width="26" height="26" fill="#ff0000" />
<rect x="523.2" y="1784.0" width="26" height="26" fill="#ff0000" />
<rect x="811.1" y="1983.8" width="26" height="26" fill="#ff0000" />
<rect x="1098.9" y="2127.3" width="26" height="26" fill="#ff0000" />
<rect x="1386.8" y="2448.8" width="26" height="26" fill="#ff0000" />
<rect x="1674.6" y="2644.4" width="26" height="26" fill="#ff0000" />
<polyline points="248.4,2682.0 536.2,2675.4 824.1,2462.0 1111.9,2280.1 1399.8,1764.2 1687.6,1764.2" fill="none" stroke="#0000ff" stroke-width="9.2" stroke-linejoin="round" />
<rect x="235.4" y="2669.0" width="26" height="26" fill="#0000ff" />
<rect x="523.2" y="2662.4" width="26" height="26" fill="#0000ff" />
<rect x="811.1" y="2449.0" width="26" height="26" fill="#0000ff" />
<rect x="1098.9" y="2267.1" width="26" height="26" fill="#0000ff" />
<rect x="1386.8" y="1751.2" width="26" height="26" fill="#0000ff" />
<rect x="1674.6" y="1751.2" width="26" height="26" fill="#0000ff" />
<rect x="536.3" y="1684.3" width="288.0" height="1093.7" fill="rgb(170,187,227)" fill-opacity="0.353"/>
<line x1="536.3" y1="1681.9" x2="536.3" y2="2780.4" stroke="#0f2c4a" stroke-width="4.8" stroke-dasharray="46 18.5" stroke-dashoffset="49.80"/>
<line x1="824.3" y1="1681.9" x2="824.3" y2="2780.4" stroke="#0f2c4a" stroke-width="4.8" stroke-dasharray="46 18.5" stroke-dashoffset="20.10"/>
<line x1="533.9" y1="1684.3" x2="826.7" y2="1684.3" stroke="#0f2c4a" stroke-width="4.8" stroke-dasharray="46 18.5" stroke-dashoffset="55.90"/>
<line x1="533.9" y1="2778.0" x2="826.7" y2="2778.0" stroke="#0f2c4a" stroke-width="4.8" stroke-dasharray="46 18.5" stroke-dashoffset="61.00"/>
<text x="633.5" y="2732.8" font-size="65" fill="#000" stroke="#000" stroke-width="0.3" text-anchor="start" font-weight="bold" textLength="89.4" lengthAdjust="spacingAndGlyphs">DP</text>
<line x1="940.0" y1="2564.5" x2="1074.5" y2="2564.5" stroke="#000000" stroke-width="8.5" stroke-linecap="round"/>
<rect x="993.9" y="2551.2" width="26.6" height="26.6" fill="#000000" />
<text x="1094.0" y="2585.7" font-size="61" fill="#0d0d0d" stroke="#0d0d0d" stroke-width="1.0" text-anchor="start" >Thrust</text>
<line x1="940.0" y1="2640.1" x2="1074.5" y2="2640.1" stroke="#ff3030" stroke-width="8.5" stroke-linecap="round"/>
<rect x="993.9" y="2626.8" width="26.6" height="26.6" fill="#ff0000" />
<text x="1094.0" y="2661.3" font-size="61" fill="#0d0d0d" stroke="#0d0d0d" stroke-width="1.0" text-anchor="start" >TSFC</text>
<line x1="940.0" y1="2715.7" x2="1074.5" y2="2715.7" stroke="#0000ff" stroke-width="8.5" stroke-linecap="round"/>
<rect x="993.9" y="2702.4" width="26.6" height="26.6" fill="#0000ff" />
<text x="1094.0" y="2736.9" font-size="61" fill="#0d0d0d" stroke="#0d0d0d" stroke-width="1.0" text-anchor="start" >Overall efficiency</text>
<text x="334.5" y="3244" font-size="56.5" fill="#111" stroke="#111" stroke-width="0.8" textLength="1451" lengthAdjust="spacingAndGlyphs"><tspan font-weight="bold">(B)</tspan> AS-reformer variation with GT performance parameters</text>
</svg></body></html>
